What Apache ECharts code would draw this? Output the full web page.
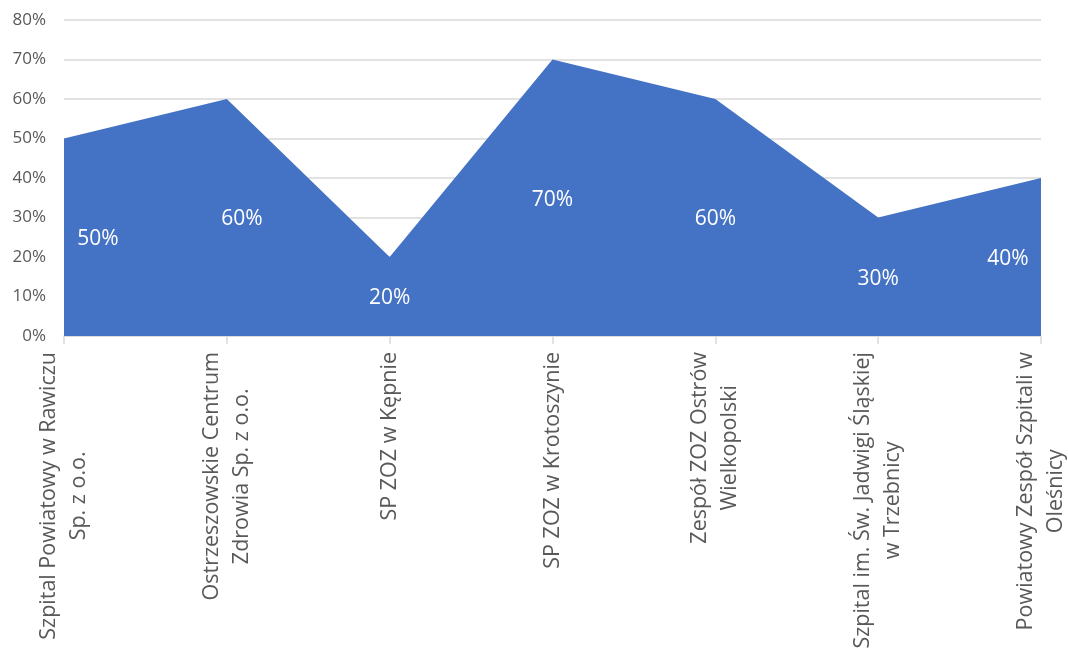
<!DOCTYPE html>
<html>
<head>
<meta charset="utf-8">
<script src="https://cdn.jsdelivr.net/npm/echarts@6/dist/echarts.min.js"></script>
<style>
html,body{margin:0;padding:0;background:#fff;}
#chart{width:1068px;height:658px;}
</style>
</head>
<body>
<div id="chart"></div>
<script>
const categories = [
  "Szpital Powiatowy w Rawiczu\nSp. z o.o.",
  "Ostrzeszowskie Centrum\nZdrowia Sp. z o.o.",
  "SP ZOZ w Kępnie",
  "SP ZOZ w Krotoszynie",
  "Zespół ZOZ Ostrów\nWielkopolski",
  "Szpital im. Św. Jadwigi Śląskiej\nw Trzebnicy",
  "Powiatowy Zespół Szpitali w\nOleśnicy"
];
const values = [50, 60, 20, 70, 60, 30, 40];
const yTicks = { min: 0, max: 80, interval: 10 };

// label placement tweaks (layout only)
const labelShiftX = [34, 15, 0, 0, 0, 0, -33];

const FONT = "'Open Sans', 'Noto Sans', sans-serif";
const chart = echarts.init(document.getElementById('chart'));
chart.setOption({
  animation: false,
  grid: { left: 64, right: 27, top: 20, bottom: 322, containLabel: false, outerBoundsMode: 'none' },
  xAxis: {
    type: 'category',
    data: categories,
    boundaryGap: false,
    axisLine: { show: true, lineStyle: { color: '#d9d9d9', width: 1.5 } },
    axisTick: { show: true, alignWithLabel: true, length: 8, lineStyle: { color: '#d9d9d9', width: 1.5 } },
    axisLabel: {
      rotate: 90,
      interval: 0,
      margin: 16,
      color: '#595959',
      fontFamily: FONT,
      fontSize: 21.5,
      lineHeight: 30,
      hideOverlap: false,
      formatter: function (v) {
        return v.split('\n').map(function (s) { return '{c|' + s + '}'; }).join('\n');
      },
      rich: { c: { align: 'center', color: '#595959', fontFamily: FONT, fontSize: 21.5, lineHeight: 30 } }
    },
    splitLine: { show: false }
  },
  yAxis: {
    type: 'value',
    min: yTicks.min,
    max: yTicks.max,
    interval: yTicks.interval,
    axisLine: { show: false },
    axisTick: { show: false },
    axisLabel: { formatter: '{value}%', color: '#595959', fontFamily: FONT, fontSize: 17, margin: 18 },
    splitLine: { lineStyle: { color: '#d9d9d9', width: 1.5 } }
  },
  series: [
    {
      type: 'line',
      data: values,
      symbol: 'none',
      lineStyle: { width: 0, color: '#4472C4' },
      itemStyle: { color: '#4472C4' },
      areaStyle: { color: '#4472C4', opacity: 1 },
      z: 2
    },
    {
      type: 'bar',
      barWidth: 1,
      data: values.map(function (v, i) {
        return { value: v, label: { offset: [labelShiftX[i], 2] } };
      }),
      itemStyle: { color: 'rgba(0,0,0,0)' },
      label: {
        show: true,
        position: 'inside',
        formatter: '{c}%',
        color: '#ffffff',
        fontFamily: FONT,
        fontSize: 21
      },
      z: 3,
      silent: true
    }
  ]
});
</script>
</body>
</html>
